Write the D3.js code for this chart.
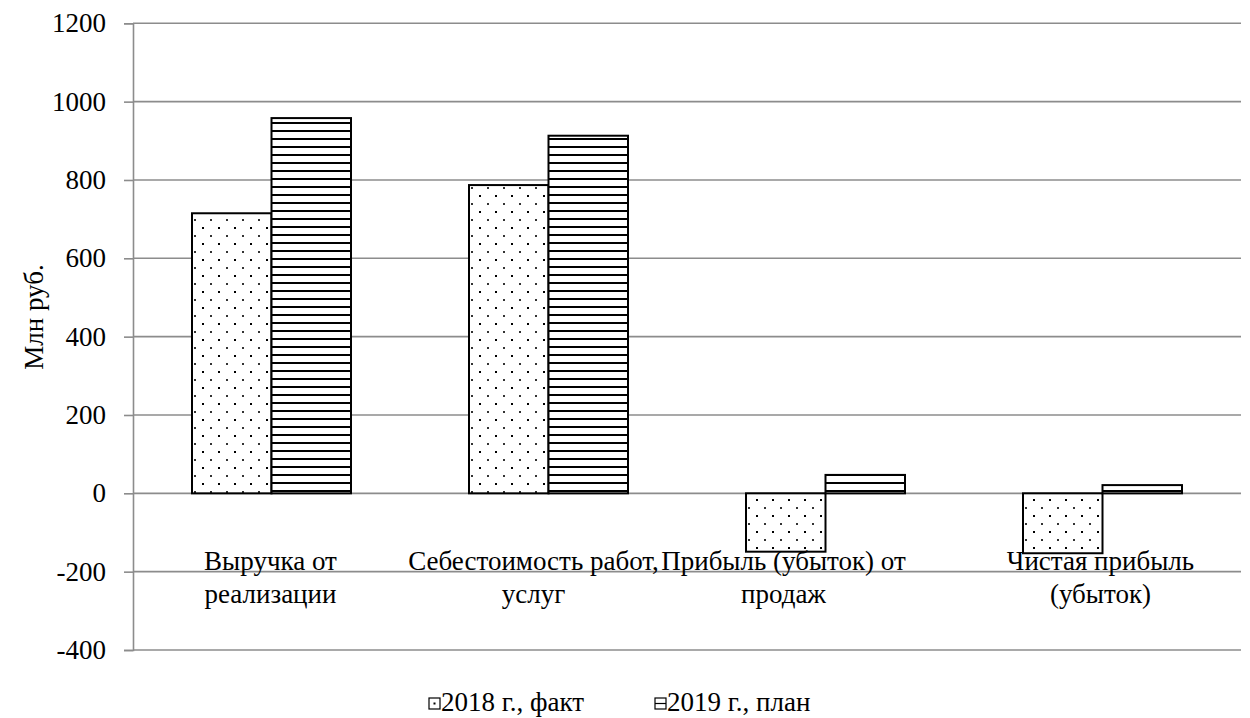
<!DOCTYPE html>
<html lang="ru">
<head>
<meta charset="utf-8">
<script src="https://cdn.jsdelivr.net/npm/d3@7"></script>
<style>
  html, body { margin: 0; padding: 0; background: #fff; }
</style>
</head>
<body>
<svg id="chart" width="1250" height="718"></svg>
<script>
// Категории (две строки подписи на каждую)
const categories = [
  ["Выручка от", "реализации"],
  ["Себестоимость работ,", "услуг"],
  ["Прибыль (убыток) от", "продаж"],
  ["Чистая прибыль", "(убыток)"]
];
const seriesNames = ["2018 г., факт", "2019 г., план"];
const fact2018 = [715, 787, -149, -153];
const plan2019 = [958, 913, 47, 21];
const yTicks = [-400, -200, 0, 200, 400, 600, 800, 1000, 1200];
const yTitle = "Млн руб.";

const FONT = '"Liberation Serif"';
const svg = d3.select("#chart");
const plot = { left: 133, right: 1241, top: 23.3, bottom: 650 };

const defs = svg.append("defs");
// Точечная штриховка
const dots = defs.append("pattern").attr("id", "pat-dots")
  .attr("patternUnits", "userSpaceOnUse").attr("width", 16).attr("height", 16);
dots.append("rect").attr("width", 16).attr("height", 16).attr("fill", "#fff");
dots.append("rect").attr("x", 5).attr("y", 3).attr("width", 2).attr("height", 2).attr("fill", "#000");
dots.append("rect").attr("x", 13).attr("y", 11).attr("width", 2).attr("height", 2).attr("fill", "#333");
// Горизонтальная штриховка
const hlines = defs.append("pattern").attr("id", "pat-hlines")
  .attr("patternUnits", "userSpaceOnUse").attr("width", 8).attr("height", 8);
hlines.append("rect").attr("width", 8).attr("height", 8).attr("fill", "#fff");
hlines.append("rect").attr("x", 0).attr("y", 2).attr("width", 8).attr("height", 2).attr("fill", "#000");

const fills = ["url(#pat-dots)", "url(#pat-hlines)"];

const y = d3.scaleLinear().domain([-400, 1200]).range([plot.bottom, plot.top]);
const x0 = d3.scaleBand().domain(d3.range(categories.length))
  .range([plot.left, plot.right]).padding(0);
const barW = x0.bandwidth() * 0.287;
const x1 = d3.scaleBand().domain([0, 1])
  .range([x0.bandwidth() / 2 - barW, x0.bandwidth() / 2 + barW]).padding(0);

// Сетка
svg.append("g").selectAll("line").data(yTicks).join("line")
  .attr("x1", plot.left).attr("x2", plot.right)
  .attr("y1", d => y(d)).attr("y2", d => y(d))
  .attr("stroke", "#8c8c8c").attr("stroke-width", 1.6);

// Ось Y
const yAxis = svg.append("g").attr("transform", `translate(${plot.left},0)`)
  .call(d3.axisLeft(y).tickValues(yTicks).tickSize(9).tickPadding(18).tickFormat(d => String(d)));
yAxis.select(".domain").attr("stroke", "#8c8c8c").attr("stroke-width", 1.6);
yAxis.selectAll(".tick line").attr("stroke", "#8c8c8c").attr("stroke-width", 1.6);
yAxis.selectAll(".tick text").attr("fill", "#000")
  .style("font-family", FONT).style("font-size", "27px");

// Столбцы
const rows = categories.map((c, i) => [fact2018[i], plan2019[i]]);
const groups = svg.append("g").selectAll("g").data(rows).join("g")
  .attr("transform", (d, i) => `translate(${x0(i)},0)`);
groups.selectAll("rect").data(d => d.map((v, k) => ({ v, k }))).join("rect")
  .attr("x", d => x1(d.k))
  .attr("width", x1.bandwidth())
  .attr("y", d => y(Math.max(0, d.v)))
  .attr("height", d => Math.abs(y(d.v) - y(0)))
  .attr("fill", d => fills[d.k])
  .attr("stroke", "#000").attr("stroke-width", 2);

// Подписи категорий (сдвиг для соседних длинных подписей)
const labelShift = [-1, -15, -42, -2];
const labels = svg.append("g").selectAll("text").data(categories).join("text")
  .attr("text-anchor", "middle").attr("fill", "#000")
  .style("font-family", FONT).style("font-size", "27px");
labels.each(function (lines, i) {
  const cx = x0(i) + x0.bandwidth() / 2 + labelShift[i];
  d3.select(this).selectAll("tspan").data(lines).join("tspan")
    .attr("x", cx).attr("y", (d, j) => 570 + j * 33).text(d => d);
});

// Заголовок оси Y
svg.append("text")
  .attr("transform", `translate(43,317) rotate(-90)`)
  .attr("text-anchor", "middle").attr("fill", "#000")
  .style("font-family", FONT).style("font-size", "27px")
  .text(yTitle);

// Легенда
const legend = svg.append("g");
const legendX = [429, 655];
const legendBase = 711;
seriesNames.forEach((name, k) => {
  const lx = legendX[k];
  const g = legend.append("g");
  g.append("rect").attr("x", lx).attr("y", legendBase - 13).attr("width", 11).attr("height", 11)
    .attr("fill", "#fff").attr("stroke", "#000").attr("stroke-width", 1.2);
  if (k === 0) {
    g.append("rect").attr("x", lx + 4.5).attr("y", legendBase - 8.5).attr("width", 2).attr("height", 2).attr("fill", "#000");
  } else {
    g.append("line").attr("x1", lx).attr("x2", lx + 11).attr("y1", legendBase - 7.5).attr("y2", legendBase - 7.5)
      .attr("stroke", "#000").attr("stroke-width", 1.2);
  }
  g.append("text").attr("x", lx + 12).attr("y", legendBase).attr("fill", "#000")
    .style("font-family", FONT).style("font-size", "27px").text(name);
});
</script>
</body>
</html>
